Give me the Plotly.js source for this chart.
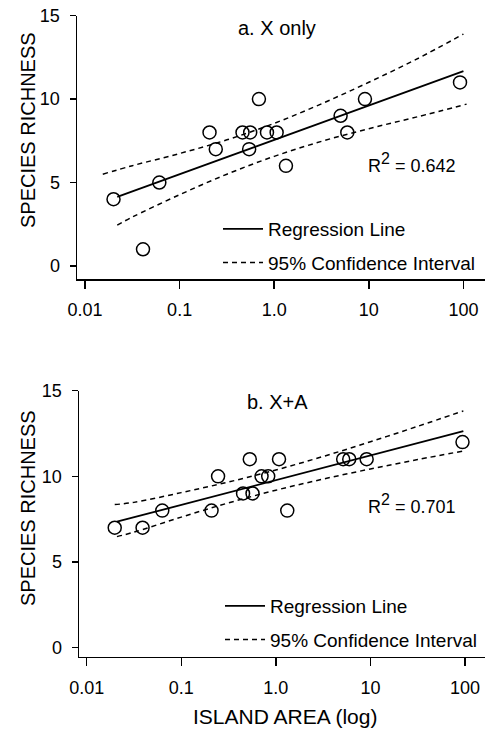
<!DOCTYPE html>
<html>
<head>
<meta charset="utf-8">
<script src="https://cdn.plot.ly/plotly-3.0.1.min.js"></script>
<style>html,body{margin:0;padding:0;background:#fff;}#chart{width:485px;height:731px;}</style>
</head>
<body>
<div id="chart"></div>
<script>
// Panel a: X only
const areaA = [0.020, 0.041, 0.061, 0.207, 0.241, 0.462, 0.557, 0.543, 0.689, 0.838, 1.06, 1.33, 5.03, 5.92, 9.1, 92];
const richA = [4, 1, 5, 8, 7, 8, 8, 7, 10, 8, 8, 6, 9, 8, 10, 11];
const regXA = [0.0219, 100];
const regYA = [4.14, 11.68];
const ciUpXA = [0.0154, 0.0316, 0.1, 0.316, 1, 3.16, 10, 31.6, 100];
const ciUpA  = [5.5, 6.01, 6.74, 7.56, 8.55, 9.72, 11.01, 12.38, 13.9];
const ciLoXA = [0.0219, 0.0316, 0.1, 0.316, 1, 3.16, 10, 31.6, 108];
const ciLoA  = [2.45, 2.93, 4.27, 5.50, 6.57, 7.47, 8.23, 8.92, 9.7];

// Panel b: X+A
const areaB = [0.0198, 0.039, 0.063, 0.209, 0.245, 0.45, 0.53, 0.567, 0.706, 0.83, 1.08, 1.32, 5.15, 5.97, 9.12, 94];
const richB = [7, 7, 8, 8, 10, 9, 11, 9, 10, 10, 11, 8, 11, 11, 11, 12];
const regXB = [0.0209, 96];
const regYB = [7.35, 12.64];
const ciUpXB = [0.0198, 0.0316, 0.1, 0.316, 1, 3.16, 10, 31.6, 96];
const ciUpB  = [8.35, 8.48, 9.05, 9.67, 10.37, 11.16, 12.02, 12.92, 13.82];
const ciLoXB = [0.0209, 0.0316, 0.1, 0.316, 1, 3.16, 10, 31.6, 96];
const ciLoB  = [6.48, 6.74, 7.62, 8.45, 9.19, 9.84, 10.43, 10.98, 11.48];

const xTickVals = [0.01, 0.1, 1, 10, 100];
const xTickText = ['0.01', '0.1', '1.0', '10', '100'];
const yTickVals = [0, 5, 10, 15];

const FONT = '"Liberation Sans", Arial, Helvetica, sans-serif';
const INK = '#000';

function panelTraces(xs, ys, rx, ry, ux, uy, lx, ly, xa, ya, leg) {
  return [
    {x: xs, y: ys, xaxis: xa, yaxis: ya, type: 'scatter', mode: 'markers', showlegend: false,
     marker: {symbol: 'circle-open', size: 13, color: INK, line: {width: 1.5, color: INK}}},
    {x: rx, y: ry, xaxis: xa, yaxis: ya, type: 'scatter', mode: 'lines', name: 'Regression Line',
     legend: leg, legendgroup: leg + 'r', line: {color: INK, width: 1.8}},
    {x: ux, y: uy, xaxis: xa, yaxis: ya, type: 'scatter', mode: 'lines', name: '95% Confidence Interval',
     legend: leg, legendgroup: leg + 'c', line: {color: INK, width: 1.5, dash: '5px,4px', shape: 'spline'}},
    {x: lx, y: ly, xaxis: xa, yaxis: ya, type: 'scatter', mode: 'lines', showlegend: false,
     legendgroup: leg + 'c', line: {color: INK, width: 1.5, dash: '5px,4px', shape: 'spline'}}
  ];
}

const data = [].concat(
  panelTraces(areaA, richA, regXA, regYA, ciUpXA, ciUpA, ciLoXA, ciLoA, 'x', 'y', 'legend'),
  panelTraces(areaB, richB, regXB, regYB, ciUpXB, ciUpB, ciLoXB, ciLoB, 'x2', 'y2', 'legend2')
);

function xAxis(domain, range, anchor) {
  return {domain: domain, anchor: anchor, type: 'log', range: range,
    tickvals: xTickVals, ticktext: xTickText, showline: true, linecolor: INK, linewidth: 1.5,
    ticks: 'outside', ticklen: 8, tickwidth: 1.5, tickcolor: INK, ticklabelstandoff: 6,
    tickfont: {family: FONT, size: 18, color: INK}, showgrid: false, zeroline: false, mirror: false};
}
function yAxis(domain, range, anchor) {
  return {domain: domain, anchor: anchor, range: range,
    tickvals: yTickVals, showline: true, linecolor: INK, linewidth: 1.5,
    ticks: 'outside', ticklen: 6, tickwidth: 1.5, tickcolor: INK, ticklabelstandoff: 6,
    tickfont: {family: FONT, size: 18, color: INK}, showgrid: false, zeroline: false, mirror: false};
}

const W = 485, H = 731;
const px = v => v / W;
const py = v => 1 - v / H;

function legendCfg(left, top) {
  return {x: px(left), y: py(top), xanchor: 'left', yanchor: 'top', bgcolor: 'rgba(0,0,0,0)',
    borderwidth: 0, font: {family: FONT, size: 19, color: INK}, tracegroupgap: 6,
    itemwidth: 40, itemclick: false, itemdoubleclick: false};
}

const layout = {
  width: W, height: H,
  margin: {l: 0, r: 0, t: 0, b: 0},
  paper_bgcolor: '#fff', plot_bgcolor: '#fff',
  font: {family: FONT, color: INK},
  showlegend: true,
  xaxis: xAxis([px(77), 1], [-2.085, 2.228], 'y'),
  yaxis: yAxis([py(279.3), py(15.7)], [-0.8, 15], 'x'),
  xaxis2: xAxis([px(79), 1], [-2.081, 2.211], 'y2'),
  yaxis2: yAxis([py(656.7), py(390.7)], [-0.53, 15], 'x2'),
  legend: legendCfg(218, 210),
  legend2: legendCfg(220, 587),
  annotations: [
    {text: 'SPECIES RICHNESS', xref: 'paper', yref: 'paper', x: px(28), y: py(130), textangle: -90,
     showarrow: false, xanchor: 'center', yanchor: 'middle', font: {family: FONT, size: 20, color: INK}},
    {text: 'SPECIES RICHNESS', xref: 'paper', yref: 'paper', x: px(28), y: py(508), textangle: -90,
     showarrow: false, xanchor: 'center', yanchor: 'middle', font: {family: FONT, size: 20, color: INK}},
    {text: 'ISLAND AREA (log)', xref: 'paper', yref: 'paper', x: px(285), y: py(716),
     showarrow: false, xanchor: 'center', yanchor: 'middle', font: {family: FONT, size: 21, color: INK}},
    {text: 'a. X only', xref: 'paper', yref: 'paper', x: px(277), y: py(28),
     showarrow: false, xanchor: 'center', yanchor: 'middle', font: {family: FONT, size: 20, color: INK}},
    {text: 'b. X+A', xref: 'paper', yref: 'paper', x: px(277), y: py(402),
     showarrow: false, xanchor: 'center', yanchor: 'middle', font: {family: FONT, size: 20, color: INK}},
    {text: 'R<sup><span style="font-size:16px">2</span></sup> = 0.642', xref: 'paper', yref: 'paper', x: px(366), y: py(163),
     showarrow: false, xanchor: 'left', yanchor: 'middle', font: {family: FONT, size: 18, color: INK}},
    {text: 'R<sup><span style="font-size:16px">2</span></sup> = 0.701', xref: 'paper', yref: 'paper', x: px(366), y: py(504),
     showarrow: false, xanchor: 'left', yanchor: 'middle', font: {family: FONT, size: 18, color: INK}}
  ]
};

Plotly.newPlot('chart', data, layout, {staticPlot: true, displayModeBar: false});
</script>
</body>
</html>
